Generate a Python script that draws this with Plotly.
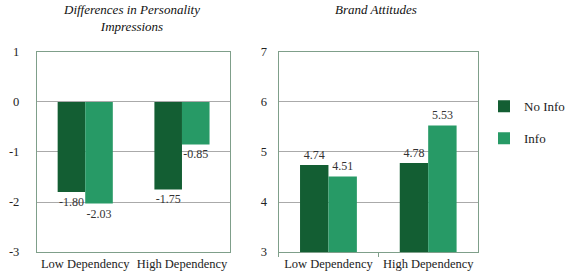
import plotly.graph_objects as go

categories = ["Low Dependency", "High Dependency"]
series_names = ["No Info", "Info"]
diff_no_info = [-1.80, -1.75]
diff_info = [-2.03, -0.85]
brand_no_info = [4.74, 4.78]
brand_info = [4.51, 5.53]
diff_ticks = [-3, -2, -1, 0, 1]
brand_ticks = [3, 4, 5, 6, 7]
colors = ["#135E33", "#279A66"]

FONT = "Liberation Serif"
fig = go.Figure()

def add(vals, name, color, xa, ya, show):
    fig.add_trace(go.Bar(
        x=categories, y=vals, name=name, marker=dict(color=color, line=dict(width=0)),
        text=[f"{v:.2f}" for v in vals], textposition="outside", cliponaxis=False,
        textfont=dict(family=FONT, size=12, color="#333333"),
        xaxis=xa, yaxis=ya, showlegend=show, legendgroup=name,
    ))

add(diff_no_info, series_names[0], colors[0], "x", "y", False)
add(diff_info, series_names[1], colors[1], "x", "y", False)
add(brand_no_info, series_names[0], colors[0], "x2", "y2", True)
add(brand_info, series_names[1], colors[1], "x2", "y2", True)

ydom = [0.0935, 0.813]
axis_common = dict(showline=True, mirror=True, linecolor="#7F9F8A", linewidth=1,
                   tickfont=dict(family=FONT, size=12.5, color="#222222"), automargin=False)
fig.update_layout(
    width=570, height=278, margin=dict(l=0, r=0, t=0, b=0),
    paper_bgcolor="white", plot_bgcolor="white",
    barmode="group", bargap=0.43, bargroupgap=0,
    font=dict(family=FONT),
    xaxis=dict(domain=[0.068, 0.425], anchor="y", ticks="", **axis_common),
    yaxis=dict(domain=ydom, anchor="x", range=[-3, 1], tickvals=diff_ticks,
               ticktext=[str(t) for t in diff_ticks], showgrid=True,
               gridcolor="#AAAAAA", zeroline=False, ticks="",
               ticklabelstandoff=14, **axis_common),
    xaxis2=dict(domain=[0.514, 0.882], anchor="y2", ticks="outside", tickson="boundaries",
                ticklen=4, tickcolor="#7F9F8A", **axis_common),
    yaxis2=dict(domain=ydom, anchor="x2", range=[3, 7], tickvals=brand_ticks,
                ticktext=[str(t) for t in brand_ticks], showgrid=True,
                gridcolor="#AAAAAA", zeroline=False, ticks="", ticklabelstandoff=8,
                **axis_common),
    legend=dict(x=0.893, y=0.56, xanchor="left", yanchor="middle",
                font=dict(family=FONT, size=13, color="#222222"),
                traceorder="grouped", tracegroupgap=12, itemwidth=30,
                bgcolor="rgba(0,0,0,0)"),
    annotations=[
        dict(text="Differences in Personality<br>Impressions", x=0.243, y=1.0,
             xref="paper", yref="paper", xanchor="center", yanchor="top", showarrow=False,
             font=dict(family=FONT, size=13, color="#111111", style="italic")),
        dict(text="Brand Attitudes", x=0.693, y=1.0,
             xref="paper", yref="paper", xanchor="center", yanchor="top", showarrow=False,
             font=dict(family=FONT, size=13, color="#111111", style="italic")),
    ],
)
fig.write_html("out.html")
